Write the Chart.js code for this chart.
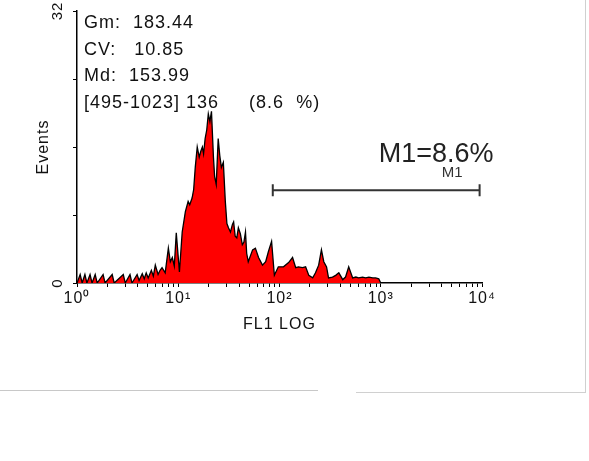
<!doctype html>
<html>

<head>
    <title>FL1 histogram</title>
    <script src="https://cdn.jsdelivr.net/npm/chart.js"></script>
    <style>
        body { margin: 0; background: #fff; }
        #frame1 { position: absolute; left: 0; top: 0; width: 318px; height: 390px; border-bottom: 1px solid #c8c8c8; }
        #frame2 { position: absolute; left: 356px; top: 0; width: 229px; height: 392px; border-bottom: 1px solid #d0d0d0; border-right: 1px solid #d0d0d0; }
        canvas { position: absolute; left: 0; top: 0; }
    </style>
</head>

<body>
    <div id="frame1"></div>
    <div id="frame2"></div>
    <canvas id="histo" width="589" height="461"></canvas>

    <script>
        // channel (0-1023, 4 log decades) and event count
        const channels = [0, 8, 13, 20, 25, 33, 38, 46, 51, 66, 71, 89, 94, 117, 122, 134, 139, 152, 157, 165,
            170, 175, 180, 188, 193, 198, 205, 210, 215, 223, 231, 236, 241, 246, 251, 259, 266, 274, 281, 285,
            291, 295, 299, 304, 309, 313, 317, 320, 324, 328, 332, 336, 340, 345, 348, 352, 357, 361, 365, 370,
            375, 379, 383, 388, 393, 396, 400, 404, 408, 413, 418, 422, 426, 429, 433, 444, 451, 459, 469, 477,
            484, 492, 499, 509, 522, 535, 545, 553, 560, 570, 578, 586, 596, 603, 611, 618, 624, 631, 636, 646,
            654, 662, 672, 679, 687, 697, 705, 712, 722, 730, 738, 748, 755, 763, 768, 1023];
        const events = [0, 1, 0, 1, 0, 1, 0, 1, 0, 1, 0, 1, 0, 1, 0, 1, 0, 1, 0.3, 1.1,
            0.5, 1.2, 0.6, 1.5, 0.8, 2.1, 1, 1.5, 1.8, 1.2, 4.1, 2.5, 3, 2, 5.9, 1.3, 6, 8.4, 9.6, 9.2,
            10, 11, 13.6, 16, 14.8, 15.5, 16, 15.2, 17, 18, 19.9, 19, 20.2, 14.8, 12.5, 11.6, 17, 15, 13.6, 14.2,
            9.6, 7, 6.5, 6, 6.9, 7.2, 5.5, 5.3, 6.5, 5.8, 4.5, 4.8, 6, 3.5, 2.5, 3.9, 4.1, 3, 2.1, 2.5,
            3.7, 4.9, 0.9, 1.9, 1.9, 2.4, 3, 1.8, 1.9, 1.8, 1.9, 0.9, 0.6, 1.2, 2.1, 3.9, 2.5, 1.9, 0.6, 0.7,
            0.9, 1.2, 0.4, 0.7, 1.9, 0.6, 0.7, 0.6, 0.7, 0.6, 0.7, 0.6, 0.6, 0.5, 0, 0];

        const decadeTicks = [0, 256, 512, 768, 1024];
        const decadeLabels = ['10\u2070', '10\u00b9', '10\u00b2', '10\u00b3', '10\u2074'];
        const yTickLabels = [0, 32];
        const statLines = ['Gm:  183.44', 'CV:   10.85', 'Md:  153.99', '[495-1023] 136     (8.6  %)'];
        const markerRange = [495, 1023];
        const markerLevel = 10.9;
        const markerName = 'M1';
        const markerText = 'M1=8.6%';

        const points = channels.map((c, i) => ({ x: c, y: events[i] }));

        const extras = {
            id: 'extras',
            beforeDraw(chart) {
                chart.ctx.letterSpacing = '1px';
            },
            afterDraw(chart) {
                const ctx = chart.ctx;
                const xs = chart.scales.x, ys = chart.scales.y;
                const area = chart.chartArea;
                ctx.save();

                // y tick labels, rotated
                ctx.fillStyle = '#111';
                ctx.font = '15px "Liberation Sans", Arial, sans-serif';
                ctx.textAlign = 'center';
                ctx.textBaseline = 'middle';
                yTickLabels.forEach(v => {
                    ctx.save();
                    ctx.translate(area.left - 19, ys.getPixelForValue(v));
                    ctx.rotate(-Math.PI / 2);
                    ctx.fillText(String(v), 0, 0);
                    ctx.restore();
                });

                // stats block
                ctx.letterSpacing = '1px';
                ctx.font = '18px "Liberation Sans", Arial, sans-serif';
                ctx.textAlign = 'left';
                ctx.textBaseline = 'alphabetic';
                statLines.forEach((s, i) => {
                    ctx.fillText(s, area.left + 7, area.top + 17 + i * 26.7);
                });

                // marker M1
                const x1 = xs.getPixelForValue(markerRange[0]);
                const x2 = xs.getPixelForValue(markerRange[1]) - 2;
                const y = ys.getPixelForValue(markerLevel);
                ctx.strokeStyle = '#333';
                ctx.lineWidth = 2;
                ctx.beginPath();
                ctx.moveTo(x1, y); ctx.lineTo(x2, y);
                ctx.moveTo(x1, y - 6); ctx.lineTo(x1, y + 6);
                ctx.moveTo(x2, y - 6); ctx.lineTo(x2, y + 6);
                ctx.stroke();

                ctx.letterSpacing = '0px';
                ctx.fillStyle = '#333';
                ctx.textAlign = 'right';
                ctx.font = '15px "Liberation Sans", Arial, sans-serif';
                ctx.fillText(markerName, x2 - 17, y - 13);
                ctx.fillStyle = '#222';
                ctx.font = '27px "Liberation Sans", Arial, sans-serif';
                ctx.fillText(markerText, x2 + 14, y - 28);

                ctx.restore();
            }
        };

        new Chart(document.getElementById('histo').getContext('2d'), {
            type: 'line',
            data: {
                datasets: [{
                    data: points,
                    borderColor: '#000',
                    borderWidth: 1.3,
                    backgroundColor: '#ff0000',
                    fill: 'origin',
                    tension: 0,
                    pointRadius: 0
                }]
            },
            options: {
                responsive: false,
                animation: false,
                layout: { padding: { left: 0, top: 11, right: 107, bottom: 127 } },
                plugins: { legend: { display: false }, tooltip: { enabled: false } },
                scales: {
                    x: {
                        type: 'linear',
                        min: 0,
                        max: 1024,
                        afterBuildTicks: (scale) => {
                            const t = [];
                            for (let d = 0; d < 4; d++) {
                                t.push({ value: decadeTicks[d] });
                                for (let k = 2; k < 10; k++) t.push({ value: 256 * (d + Math.log10(k)) });
                            }
                            t.push({ value: 1024 });
                            scale.ticks = t;
                        },
                        afterFit: (scale) => { scale.height = 51; },
                        ticks: {
                            autoSkip: false,
                            maxRotation: 0,
                            padding: 2,
                            color: '#111',
                            font: { family: '"Liberation Sans", Arial, sans-serif', size: 16 },
                            callback: (v) => {
                                const i = decadeTicks.indexOf(v);
                                return i >= 0 ? decadeLabels[i] : '';
                            }
                        },
                        grid: { drawOnChartArea: false, tickLength: 4, tickColor: '#000' },
                        border: { color: '#000', width: 1.5 },
                        title: {
                            display: true,
                            text: 'FL1 LOG',
                            color: '#111',
                            padding: { top: 0, bottom: 0 },
                            font: { family: '"Liberation Sans", Arial, sans-serif', size: 16 }
                        }
                    },
                    y: {
                        min: 0,
                        max: 32,
                        afterFit: (scale) => { scale.width = 77; },
                        ticks: { stepSize: 8, display: false },
                        grid: { drawOnChartArea: false, tickLength: 4, tickColor: '#000' },
                        border: { color: '#000', width: 1.5 },
                        title: {
                            display: true,
                            text: 'Events',
                            color: '#111',
                            padding: { top: 34, bottom: 0 },
                            font: { family: '"Liberation Sans", Arial, sans-serif', size: 16 }
                        }
                    }
                }
            },
            plugins: [extras]
        });
    </script>
</body>

</html>
